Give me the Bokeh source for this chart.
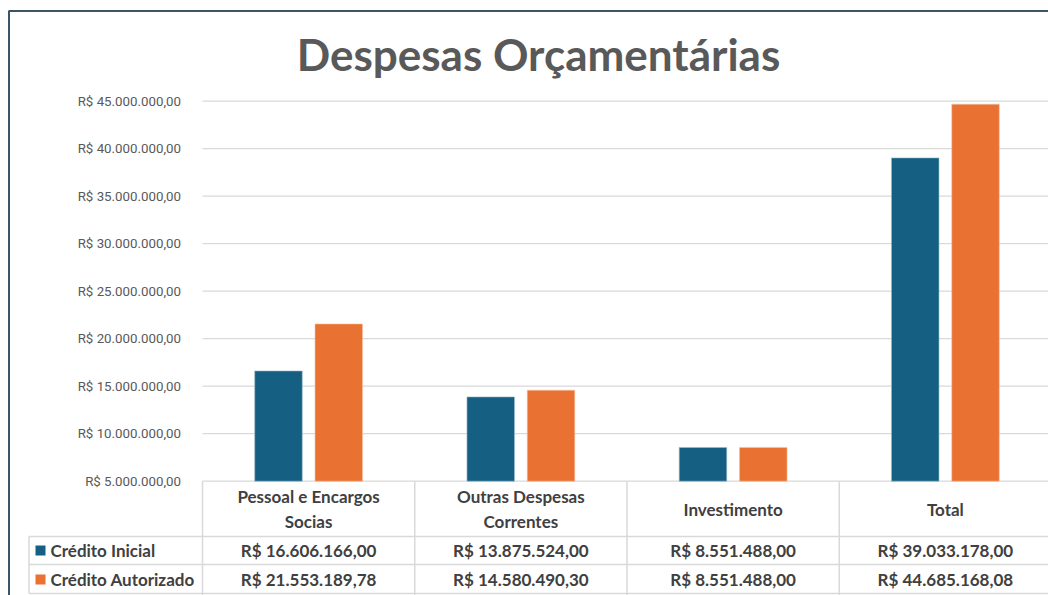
from bokeh.plotting import figure
from bokeh.models import Range1d, ColumnDataSource
from bokeh.core.properties import value
from bokeh.embed import file_html
from bokeh.resources import INLINE
import numpy as np

# ---------------- data ----------------
categories = ["Pessoal e Encargos\nSocias", "Outras Despesas\nCorrentes", "Investimento", "Total"]
series_names = ["Crédito Inicial", "Crédito Autorizado"]
credito_inicial = [16606166.00, 13875524.00, 8551488.00, 39033178.00]
credito_autorizado = [21553189.78, 14580490.30, 8551488.00, 44685168.08]
y_ticks = [5000000, 10000000, 15000000, 20000000, 25000000, 30000000, 35000000, 40000000, 45000000]
y_tick_labels = ["R$ 5.000.000,00", "R$ 10.000.000,00", "R$ 15.000.000,00", "R$ 20.000.000,00",
                 "R$ 25.000.000,00", "R$ 30.000.000,00", "R$ 35.000.000,00", "R$ 40.000.000,00",
                 "R$ 45.000.000,00"]
title_text = "Despesas Orçamentárias"

# ---------------- style / layout ----------------
BLUE = "#156082"
ORANGE = "#E97132"
TEXT = "#404040"
AXIS_TEXT = "#595959"
GRID = "#d9d9d9"
BORDER = "#3b5566"
FONT = "Lato"

W, H = 1048, 595
PLOT_L = 202             # left edge of the category area (pixels)
BASE_PX = 480.7          # pixel row of the axis base (5.000.000)
PX_PER_UNIT = 9.5 / 1e6  # pixels per R$
CAT_PX = 212.25          # width of one category column in pixels


def ydat(px):
    return y_ticks[0] + (BASE_PX - px) / PX_PER_UNIT


def xdat(px):
    return (px - PLOT_L) / CAT_PX


def brl(v):
    s = f"{v:,.2f}"
    s = s.replace(",", "X").replace(".", ",").replace("X", ".")
    return "R$ " + s


x_start, x_end = xdat(0), xdat(W)
p = figure(width=W, height=H, output_backend="svg", toolbar_location=None,
           x_range=Range1d(x_start, x_end), y_range=Range1d(ydat(H), ydat(0)),
           x_axis_type=None, y_axis_type=None,
           min_border_left=0, min_border_right=0, min_border_top=0, min_border_bottom=0)
p.outline_line_color = None
p.background_fill_color = "white"
p.border_fill_color = "white"
p.xgrid.grid_line_color = None
p.ygrid.grid_line_color = None

# value axis: gridlines + tick labels through the y scale
n_t = len(y_ticks)
p.segment(x0=[0] * n_t, x1=[x_end] * n_t, y0=y_ticks, y1=y_ticks,
          line_color=GRID, line_width=1.2)
p.text(x=[xdat(180.5)] * n_t, y=y_ticks, text=y_tick_labels,
       text_align="right", text_baseline="middle", text_font=value("Roboto"),
       text_font_size="13.3px", text_color=AXIS_TEXT)

# bars
xc = np.arange(len(categories)) + 0.5
off = 0.142
bw = 0.224
p.vbar(x=xc - off, top=credito_inicial, bottom=y_ticks[0], width=bw,
       fill_color=BLUE, line_color="#9fbccb", line_width=0.6)
p.vbar(x=xc + off, top=credito_autorizado, bottom=y_ticks[0], width=bw,
       fill_color=ORANGE, line_color="#f6c3a6", line_width=0.6)

# data table grid
row_lines_px = [536, 564, 593]
p.segment(x0=[xdat(28.5)] * len(row_lines_px), x1=[x_end] * len(row_lines_px),
          y0=[ydat(v) for v in row_lines_px], y1=[ydat(v) for v in row_lines_px],
          line_color=GRID, line_width=1.5)
vx = list(np.arange(0, len(categories) + 1))
p.segment(x0=vx, x1=vx, y0=[ydat(BASE_PX)] * len(vx), y1=[ydat(H)] * len(vx),
          line_color=GRID, line_width=1.5)
p.segment(x0=[xdat(28.5)], x1=[xdat(28.5)], y0=[ydat(536)], y1=[ydat(593)],
          line_color=GRID, line_width=1.5)

# table header and values
hdr_src = ColumnDataSource(dict(x=xc, y=[ydat(508.5)] * len(categories), t=categories))
p.text(x="x", y="y", text="t", source=hdr_src, text_align="center", text_baseline="middle",
       text_font=value(FONT), text_font_style="bold", text_font_size="17px",
       text_color=TEXT, text_line_height=1.2)
for vals, ypx in [(credito_inicial, 550), (credito_autorizado, 579)]:
    src = ColumnDataSource(dict(x=xc, y=[ydat(ypx)] * len(vals), t=[brl(v) for v in vals]))
    p.text(x="x", y="y", text="t", source=src, text_align="center", text_baseline="middle",
           text_font=value(FONT), text_font_style="bold", text_font_size="17px",
           text_color=TEXT)

# series keys in the table's first column
key_rows = [550, 579]
key_colors = [BLUE, ORANGE]
p.quad(left=[xdat(35)] * 2, right=[xdat(45)] * 2,
       top=[ydat(r - 5) for r in key_rows], bottom=[ydat(r + 5) for r in key_rows],
       fill_color=key_colors, line_color=None)
p.text(x=[xdat(50)] * 2, y=[ydat(r) for r in key_rows], text=series_names,
       text_align="left", text_baseline="middle", text_font=value(FONT),
       text_font_style="bold", text_font_size="17px", text_color=TEXT)

# title
p.text(x=[xdat(538)], y=[ydat(53)], text=[title_text], text_align="center",
       text_baseline="middle", text_font=value(FONT), text_font_style="bold",
       text_font_size="44px", text_color=AXIS_TEXT)

# outer chart border
p.line(x=[xdat(8.5), xdat(8.5), x_end + 1], y=[ydat(H + 5), ydat(10.5), ydat(10.5)],
       line_color=BORDER, line_width=2)

open("out.html", "w").write(file_html(p, INLINE))
